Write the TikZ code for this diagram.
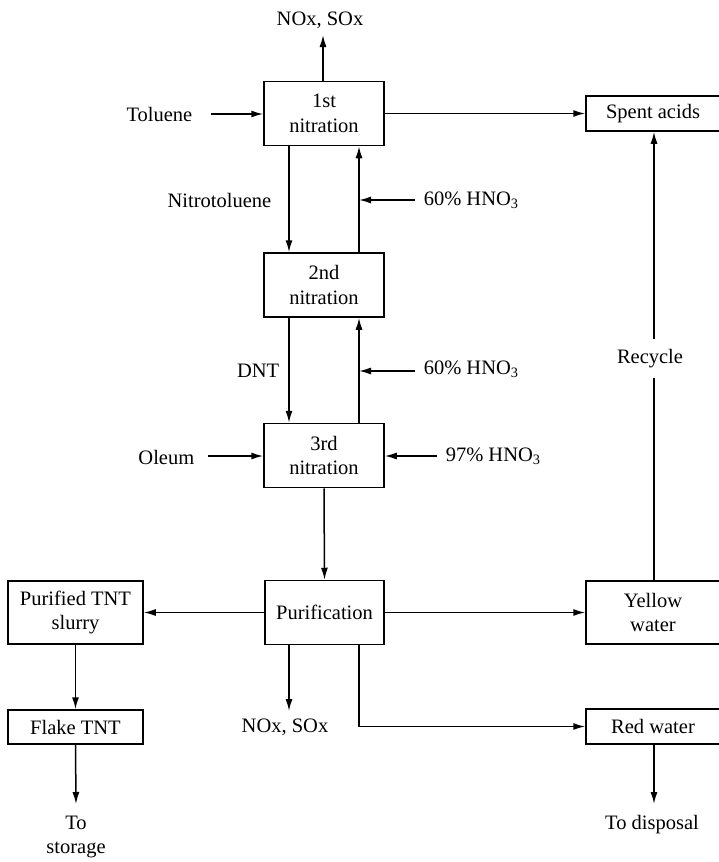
\documentclass[tikz,border=0pt]{standalone}
\usepackage{fontspec}
\setmainfont{Liberation Serif}
\usetikzlibrary{arrows.meta}
\begin{document}
\begin{tikzpicture}[x=1pt,y=-1pt,
  font=\fontsize{20.5}{24.5}\selectfont,
  line width=1.5pt,
  arr/.style={-{Latex[length=12pt,width=7pt]}},
  unit/.style={draw,align=center,inner sep=0pt,minimum width=120pt,minimum height=64pt},
  sidebox/.style={draw,align=center,inner sep=0pt,minimum width=135pt},
  lbl/.style={inner sep=0pt,align=center}]
\useasboundingbox (0,0) rectangle (718,862);

% process units
\node[unit] (n1) at (324,113.5) {1st\\nitration};
\node[unit] (n2) at (324,285) {2nd\\nitration};
\node[unit] (n3) at (324,455.5) {3rd\\nitration};
\node[unit,minimum width=119pt] (pur) at (324.5,612.5) {Purification};
\node[sidebox,minimum height=63pt] (slurry) at (75.5,612.5) {Purified TNT\\slurry};
\node[sidebox,minimum height=34pt] (flake) at (75.5,727) {Flake TNT};
\node[sidebox,minimum width=134pt,minimum height=35pt] (spent) at (653,113.5) {Spent acids};
\node[sidebox,minimum width=134pt,minimum height=63pt] (yellow) at (653,612.5) {Yellow\\water};
\node[sidebox,minimum width=134pt,minimum height=35pt] (red) at (653,726.5) {Red water};

% stream labels
\node[lbl] (gas1) at (320,20) {NOx, SOx};
\node[lbl,anchor=east] (tol) at (193,114) {Toluene};
\node[lbl,anchor=east] (nt) at (272,200) {Nitrotoluene};
\node[lbl,anchor=west] (acid1) at (423,200) {60\% HNO\textsubscript{3}};
\node[lbl,anchor=east] (dnt) at (280,371) {DNT};
\node[lbl,anchor=west] (acid2) at (423,369) {60\% HNO\textsubscript{3}};
\node[lbl,anchor=east] (oleum) at (195,457) {Oleum};
\node[lbl,anchor=west] (acid3) at (445,456) {97\% HNO\textsubscript{3}};
\node[lbl,minimum height=37pt] (rec) at (650,358.5) {Recycle};
\node[lbl] (gas2) at (285,727) {NOx, SOx};
\node[lbl,anchor=north] (store) at (76,815) {To\\storage};
\node[lbl,anchor=north] (disp) at (652,815) {To disposal};

% free ends of the feed and vent lines
\coordinate (gas1end) at (323,35);
\coordinate (tolstart) at (211,114);
\coordinate (a1start) at (415,200);
\coordinate (a2start) at (415,371);
\coordinate (olstart) at (208,456);
\coordinate (a3start) at (437,456);
\coordinate (gas2end) at (289,711);
\coordinate (storeend) at (76,804);
\coordinate (dispend) at (654,804);

% vertical streams between the stages
\coordinate (down1a) at ([xshift=-35pt]n1.south);
\coordinate (down1b) at ([xshift=-35pt]n2.north);
\coordinate (up1a) at ([xshift=35pt]n2.north);
\coordinate (up1b) at ([xshift=35pt]n1.south);
\coordinate (down2a) at ([xshift=-35pt]n2.south);
\coordinate (down2b) at ([xshift=-35pt]n3.north);
\coordinate (up2a) at ([xshift=35pt]n3.north);
\coordinate (up2b) at ([xshift=35pt]n2.south);
\coordinate (recx) at ([xshift=1pt]yellow.north);

% first stage
\draw[arr] ([xshift=-1pt]n1.north) -- (gas1end);
\draw[arr] (tolstart) -- (tolstart -| n1.west);
\draw[arr] (n1.east) -- (spent.west);
\draw[arr] (down1a) -- (down1b);
\draw[arr] (up1a) -- (up1b);
\draw[arr] (a1start) -- (a1start -| up1b);

% second stage
\draw[arr] (down2a) -- (down2b);
\draw[arr] (up2a) -- (up2b);
\draw[arr] (a2start) -- (a2start -| up2b);

% third stage
\draw[arr] (olstart) -- (olstart -| n3.west);
\draw[arr] (a3start) -- (a3start -| n3.east);
\draw[arr] (n3.south) -- (pur.north);

% purification products
\draw[arr] (pur.west) -- (slurry.east);
\draw[arr] (pur.east) -- (yellow.west);
\draw[arr] (slurry.south) -- (flake.north);
\draw[arr] (flake.south) -- (storeend);
\draw[arr] ([xshift=-35.5pt]pur.south) -- (gas2end);
\draw[arr] ([xshift=34.5pt]pur.south) |- (red.west);
\draw[arr] ([xshift=1pt]red.south) -- (dispend);

% recycle of yellow water
\draw (recx) -- (rec.south -| recx);
\draw[arr] (rec.north -| recx) -- ([xshift=1pt]spent.south);
\end{tikzpicture}
\end{document}
